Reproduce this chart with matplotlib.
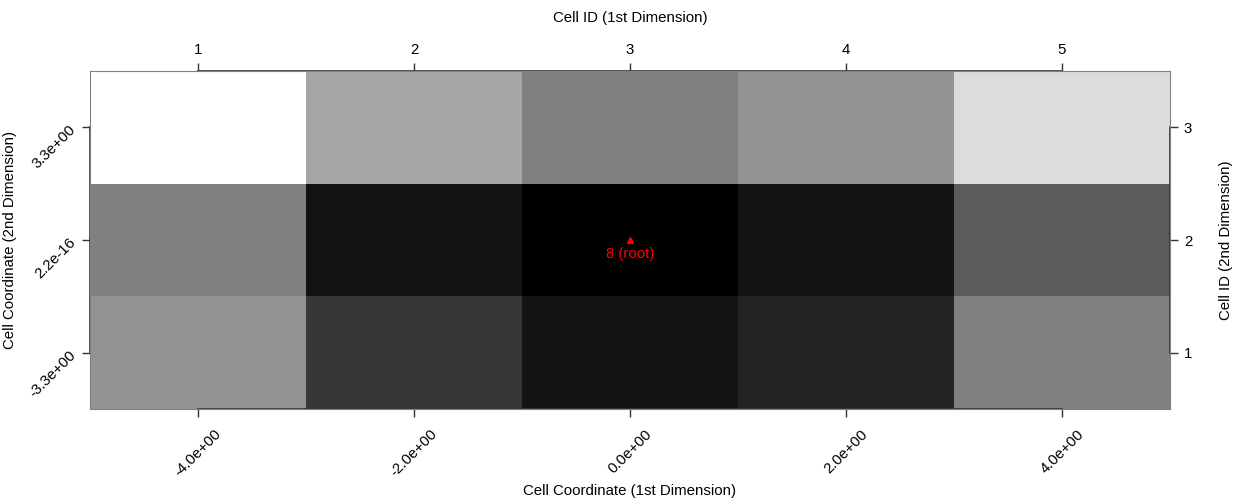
import matplotlib
matplotlib.use('Agg')
from matplotlib import pyplot as plt
import matplotlib.transforms as mtransforms
import numpy as np

plt.rcParams['font.family'] = ['Liberation Sans', 'DejaVu Sans']
plt.rcParams['font.size'] = 10.8

# 数据
x_coord = [-4.0, -2.0, 0.0, 2.0, 4.0]            # 第一维的格心坐标
y_coord = [-3.3, 2.2e-16, 3.3]                   # 第二维的格心坐标
x_labels = ['-4.0e+00', '-2.0e+00', '0.0e+00', '2.0e+00', '4.0e+00']
y_labels = ['-3.3e+00', '2.2e-16', '3.3e+00']
x_ids = ['1', '2', '3', '4', '5']
y_ids = ['1', '2', '3']
# 灰度 (0=黑, 255=白)，行从下到上
shade = [
    [147, 55, 20, 36, 128],
    [128, 18, 0, 20, 92],
    [255, 166, 128, 147, 220],
]
root_x = 0.0
root_y = 2.2e-16
root_label = '8 (root)'

W, H = 1242, 500
fig = plt.figure(figsize=(W / 100, H / 100), dpi=100)
ax = fig.add_axes([90 / W, 1 - 409 / H, (1170 - 90) / W, (409 - 71) / H])

# 格子边界
xc = np.array(x_coord)
yc = np.array(y_coord)
dx = xc[1] - xc[0]
dy = yc[1] - yc[0]
x_edges = np.concatenate([xc - dx / 2, [xc[-1] + dx / 2]])
y_edges = np.concatenate([yc - dy / 2, [yc[-1] + dy / 2]])
ax.pcolormesh(x_edges, y_edges, np.array(shade), cmap='gray', vmin=0, vmax=255, shading='flat')
ax.set_xlim(x_edges[0], x_edges[-1])
ax.set_ylim(y_edges[0], y_edges[-1])

# 根节点
ax.plot([root_x], [root_y], marker='^', color='red', ms=5, ls='none')
ax.annotate(root_label, (root_x, root_y), xytext=(0, -10), textcoords='offset points',
            ha='center', va='center', color='red', fontsize=10.8)

for s in ax.spines.values():
    s.set_color('#808080')
    s.set_linewidth(0.8)

tick_kw = dict(direction='out', length=6, width=1, color='#333333', labelsize=10.8)

# 下方 / 左侧
ax.set_xticks(x_coord)
ax.set_xticklabels(x_labels, rotation=45)
ax.set_yticks(y_coord)
ax.set_yticklabels(y_labels, rotation=45, rotation_mode='anchor', ha='right', va='center')
ax.tick_params(axis='x', pad=7, **tick_kw)
ax.tick_params(axis='y', pad=6, **tick_kw)

# 上方 / 右侧
top = ax.secondary_xaxis('top')
top.set_xticks(x_coord)
top.set_xticklabels(x_ids)
top.tick_params(pad=4, **tick_kw)
right = ax.secondary_yaxis('right')
right.set_yticks(y_coord)
right.set_yticklabels(y_ids)
right.tick_params(pad=4, **tick_kw)
for a in (top, right):
    for s in a.spines.values():
        s.set_visible(False)

# 轴线（只画到首尾刻度，R 风格）
tx = mtransforms.blended_transform_factory(ax.transData, ax.transAxes)
ty = mtransforms.blended_transform_factory(ax.transAxes, ax.transData)
for yy in (0, 1):
    ax.plot([x_coord[0], x_coord[-1]], [yy, yy], transform=tx, color='#333333', lw=1.2, clip_on=False)
for xx in (0, 1):
    ax.plot([xx, xx], [y_coord[0], y_coord[-1]], transform=ty, color='#333333', lw=1.2, clip_on=False)

# 轴标题
fig.text(630 / W, 1 - 491 / H, 'Cell Coordinate (1st Dimension)', ha='center', va='center')
fig.text(630 / W, 1 - 18 / H, 'Cell ID (1st Dimension)', ha='center', va='center')
fig.text(10 / W, 1 - 240 / H, 'Cell Coordinate (2nd Dimension)', ha='center', va='center', rotation=90)
fig.text(1226 / W, 1 - 240 / H, 'Cell ID (2nd Dimension)', ha='center', va='center', rotation=90)

plt.savefig('out.png', dpi=100)
